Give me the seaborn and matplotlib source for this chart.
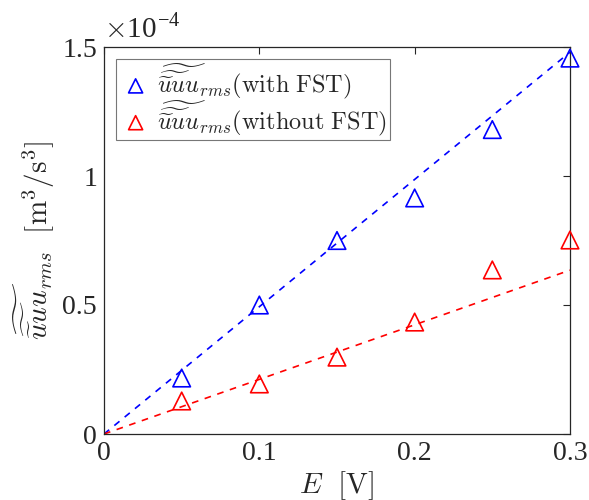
import numpy as np
import pandas as pd
import matplotlib
matplotlib.use("Agg")
import matplotlib.pyplot as plt
import seaborn as sns

# Data
E = [0.05, 0.10, 0.15, 0.20, 0.25, 0.30]
with_fst = [0.217e-4, 0.50e-4, 0.75e-4, 0.915e-4, 1.18e-4, 1.457e-4]
without_fst = [0.128e-4, 0.194e-4, 0.298e-4, 0.434e-4, 0.636e-4, 0.752e-4]
fit_x = [0.0, 0.30]
fit_with = [0.0, 1.48e-4]
fit_without = [0.0, 0.635e-4]
xticks = [0, 0.1, 0.2, 0.3]
yticks = [0, 0.5e-4, 1.0e-4, 1.5e-4]

sns.set_theme(style="white")
plt.rcParams['font.family'] = ['Liberation Serif', 'DejaVu Serif']
plt.rcParams['mathtext.fontset'] = 'cm'

fig = plt.figure(figsize=(5.89, 5.0), dpi=100)
ax = fig.add_axes([0.1766, 0.132, 0.7911, 0.774])

sym = r'\widetilde{\widetilde{\widetilde{u}u}u}_{rms}'
lab1 = r'$' + sym + r'\mathrm{(with\ FST)}$'
lab2 = r'$' + sym + r'\mathrm{(without\ FST)}$'

df1 = pd.DataFrame({'E': E, 'v': with_fst})
df2 = pd.DataFrame({'E': E, 'v': without_fst})
sns.lineplot(x=fit_x, y=fit_with, ax=ax, color='#0000ff', linestyle=(0, (4, 4)), linewidth=1.2, label='_nolegend_')
sns.lineplot(x=fit_x, y=fit_without, ax=ax, color='#ff0000', linestyle=(0, (4, 4)), linewidth=1.2, label='_nolegend_')
sns.scatterplot(data=df1, x='E', y='v', ax=ax, marker='^', s=160, facecolor='none',
                edgecolor='#0000ff', linewidth=1.2, label=lab1, clip_on=False, zorder=5)
sns.scatterplot(data=df2, x='E', y='v', ax=ax, marker='^', s=160, facecolor='none',
                edgecolor='#ff0000', linewidth=1.2, label=lab2, clip_on=False, zorder=5)

ax.set_xlim(0, 0.3)
ax.set_ylim(0, 1.5e-4)
ax.set_xticks(xticks)
ax.set_yticks(yticks)
ax.set_xticklabels(['0', '0.1', '0.2', '0.3'])
ax.set_yticklabels(['0', '0.5', '1', '1.5'])
ax.tick_params(direction='in', top=True, right=True, length=5, width=0.8,
               labelsize=20, colors='#262626', pad=5)
for sp in ax.spines.values():
    sp.set_color('#262626')
    sp.set_linewidth(0.9)

ax.text(0.0, 1.01, r'$\times\mathregular{10}^{\mathregular{-4}}$', transform=ax.transAxes,
        fontsize=21, color='#262626', ha='left', va='bottom')

ax.set_xlabel(r'$E\ \ \mathrm{[V]}$', fontsize=21, color='#262626', labelpad=2)
ax.set_ylabel(r'$' + sym + r'\ \ \mathrm{[m^3/s^3]}$', fontsize=21,
              color='#262626', labelpad=4)

leg = ax.legend(loc='upper left', fontsize=17.5, frameon=True, fancybox=False,
                edgecolor='#555555', borderpad=0.1, handletextpad=0.2,
                labelspacing=-0.1, borderaxespad=0.5, handlelength=1.4, markerscale=0.8)
leg.get_frame().set_linewidth(0.8)

fig.savefig('out.png', dpi=100)
